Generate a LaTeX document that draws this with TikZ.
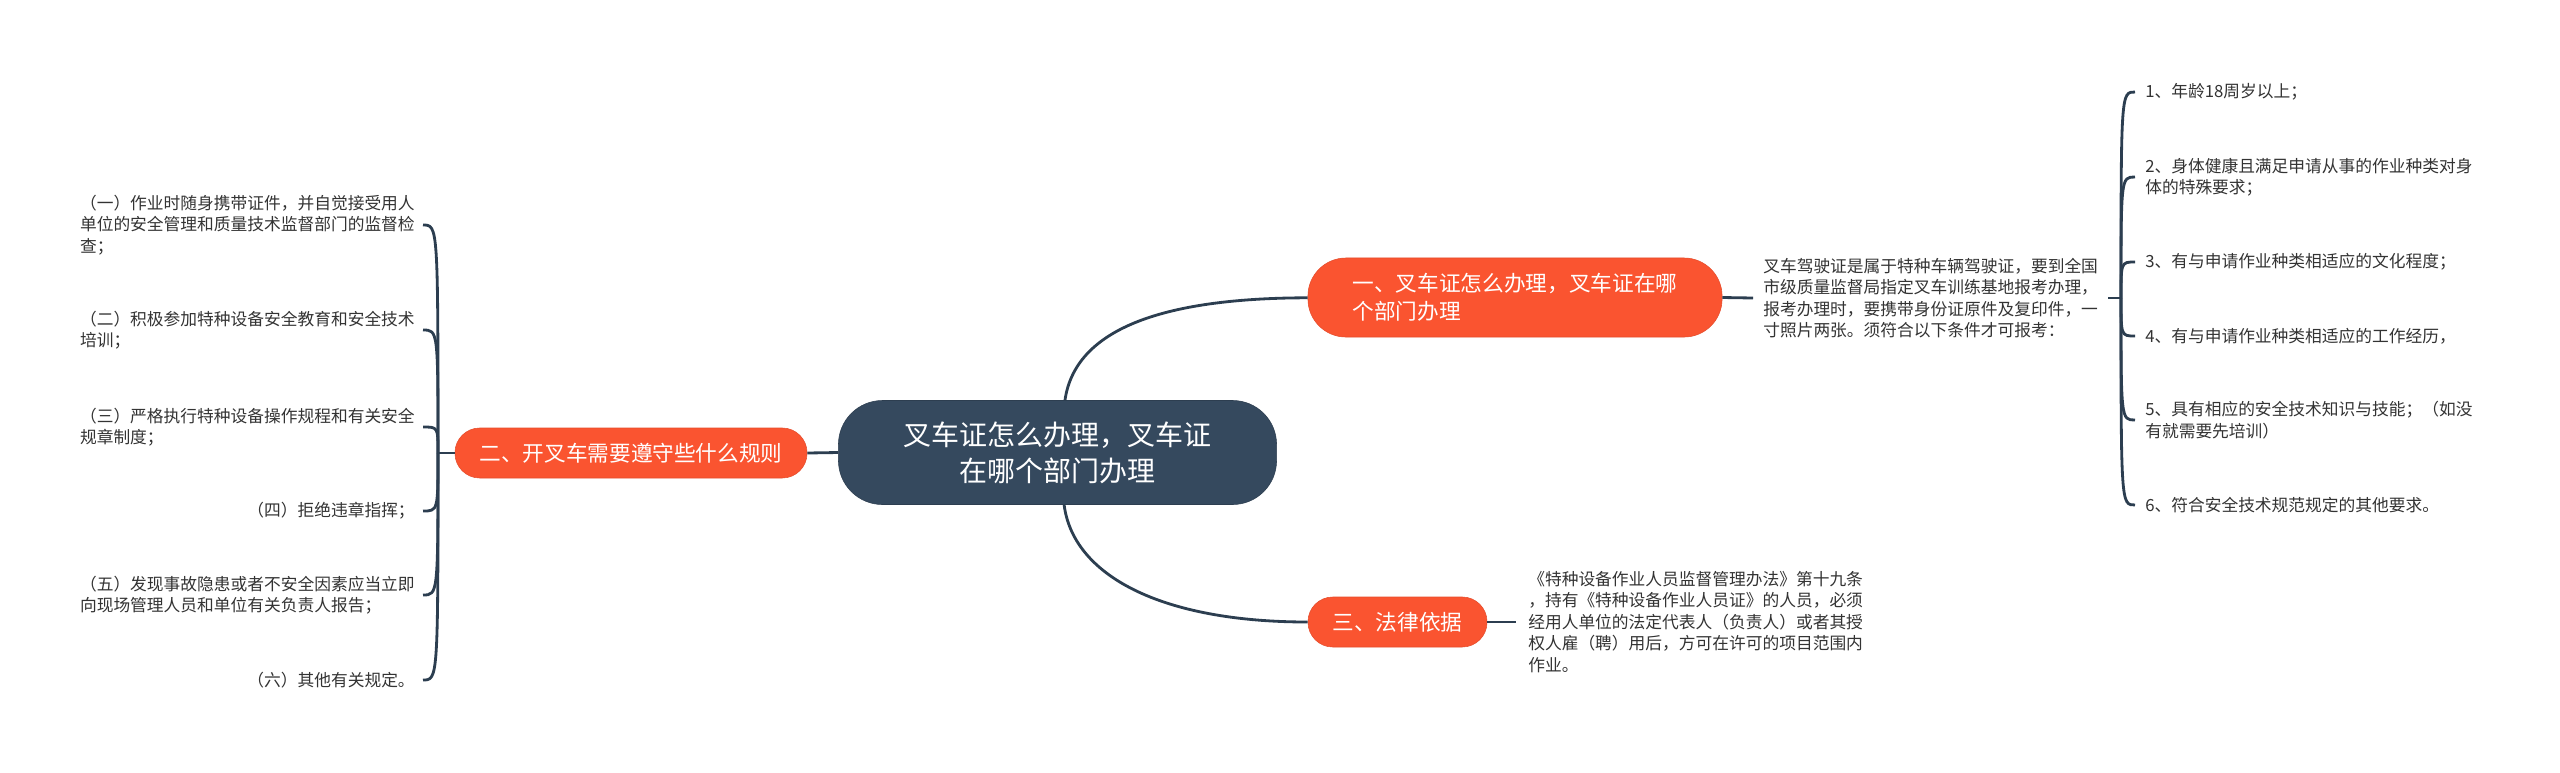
\documentclass[tikz,border=0pt]{standalone}
\usepackage{fontspec}
\setmainfont{Noto Sans CJK SC}
\usepackage{tikz}
\definecolor{rootfill}{HTML}{35495E}
\definecolor{branchfill}{HTML}{FA5430}
\definecolor{linkcol}{HTML}{2C3E50}
\definecolor{leaftext}{HTML}{333333}

\begin{document}
\begin{tikzpicture}[x=0.025cm, y=-0.025cm,
  rootnode/.style={fill=rootfill, draw=rootfill!85!black, text=white, rounded corners=1.1cm, minimum width=10.95cm, minimum height=2.6cm, align=center, font=\fontsize{19.9pt}{25.6pt}\selectfont},
  branchnode/.style={fill=branchfill, draw=branchfill!92!black, text=white, rounded corners=0.62cm, minimum height=1.25cm, align=left, font=\fontsize{15.4pt}{19.9pt}\selectfont},
  leaf/.style={text=leaftext, align=left, inner ysep=0pt, font=\fontsize{11.9pt}{15.3pt}\selectfont},
  leafL/.style={leaf, anchor=east, inner xsep=0.2cm},
  leafR/.style={leaf, anchor=west, inner xsep=0.25cm},
  conn/.style={draw=linkcol, line width=2pt}]
\useasboundingbox (0,0) rectangle (2560,772);
\fill[white] (0,0) rectangle (2560,772);

\node[rootnode] (root) at (1057.5,452.5) {叉车证怎么办理，叉车证\\在哪个部门办理};
\node[branchnode, minimum width=10.35cm, minimum height=1.975cm, rounded corners=0.95cm] (b1) at (1515,297.5) {一、叉车证怎么办理，叉车证在哪\\个部门办理};
\node[branchnode, minimum width=8.8cm] (b2) at (631,453) {二、开叉车需要遵守些什么规则};
\node[branchnode, minimum width=4.475cm] (b3) at (1397.5,622) {三、法律依据};

\node[leafR] (desc) at (1753,298) {叉车驾驶证是属于特种车辆驾驶证，要到全国\\市级质量监督局指定叉车训练基地报考办理，\\报考办理时，要携带身份证原件及复印件，一\\寸照片两张。须符合以下条件才可报考：};
\node[leafR, inner xsep=0.3cm] (law) at (1516,622) {《特种设备作业人员监督管理办法》第十九条\\，持有《特种设备作业人员证》的人员，必须\\经用人单位的法定代表人（负责人）或者其授\\权人雇（聘）用后，方可在许可的项目范围内\\作业。};

\node[leafR] (r1) at (2135,92) {1、年龄18周岁以上；};
\node[leafR] (r2) at (2135,177) {2、身体健康且满足申请从事的作业种类对身\\体的特殊要求；};
\node[leafR] (r3) at (2135,262) {3、有与申请作业种类相适应的文化程度；};
\node[leafR] (r4) at (2135,336) {4、有与申请作业种类相适应的工作经历，};
\node[leafR] (r5) at (2135,420) {5、具有相应的安全技术知识与技能；（如没\\有就需要先培训）};
\node[leafR] (r6) at (2135,505) {6、符合安全技术规范规定的其他要求。};

\node[leafL] (l1) at (423,225) {（一）作业时随身携带证件，并自觉接受用人\\单位的安全管理和质量技术监督部门的监督检\\查；};
\node[leafL] (l2) at (423,330) {（二）积极参加特种设备安全教育和安全技术\\培训；};
\node[leafL] (l3) at (423,427) {（三）严格执行特种设备操作规程和有关安全\\规章制度；};
\node[leafL] (l4) at (423,511) {（四）拒绝违章指挥；};
\node[leafL] (l5) at (423,595) {（五）发现事故隐患或者不安全因素应当立即\\向现场管理人员和单位有关负责人报告；};
\node[leafL] (l6) at (423,680) {（六）其他有关规定。};

\coordinate (lj) at (438,453);
\coordinate (rj) at (2121,298);

\draw[conn] (root) .. controls (1075,330) and (1160,298) .. (b1);
\draw[conn] (root) .. controls (1073,575) and (1160,622) .. (b3);
\draw[conn] (root.west) -- (b2.east);
\draw[conn] (b1.east) -- (desc.west);
\draw[conn] (b3.east) -- (law.west);
\draw[conn] (desc.east) -- (rj);
\draw[conn] (b2.west) -- (lj);

\draw[conn] (rj) .. controls (rj |- r1.west) .. (r1.west);
\draw[conn] (rj) .. controls (rj |- r2.west) .. (r2.west);
\draw[conn] (rj) .. controls (rj |- r3.west) .. (r3.west);
\draw[conn] (rj) .. controls (rj |- r4.west) .. (r4.west);
\draw[conn] (rj) .. controls (rj |- r5.west) .. (r5.west);
\draw[conn] (rj) .. controls (rj |- r6.west) .. (r6.west);

\draw[conn] (lj) .. controls (lj |- l1.east) .. (l1.east);
\draw[conn] (lj) .. controls (lj |- l2.east) .. (l2.east);
\draw[conn] (lj) .. controls (lj |- l3.east) .. (l3.east);
\draw[conn] (lj) .. controls (lj |- l4.east) .. (l4.east);
\draw[conn] (lj) .. controls (lj |- l5.east) .. (l5.east);
\draw[conn] (lj) .. controls (lj |- l6.east) .. (l6.east);
\end{tikzpicture}
\end{document}
